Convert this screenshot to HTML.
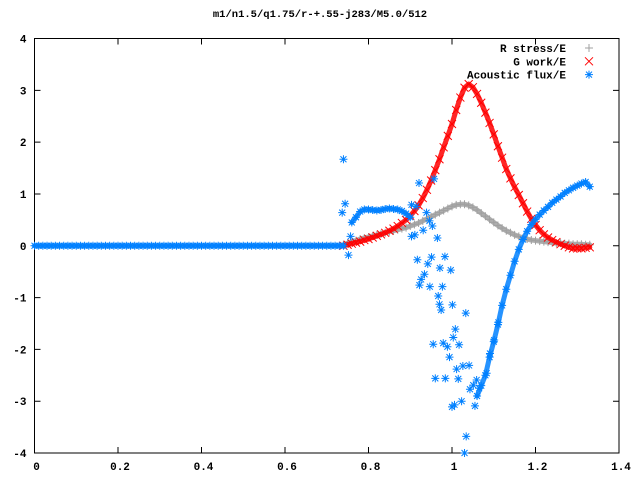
<!DOCTYPE html>
<html><head><meta charset="utf-8"><style>
html,body{margin:0;padding:0;background:#fff;}
svg{display:block;}
text{font-family:"Liberation Mono",monospace;font-weight:bold;font-size:11px;fill:#000;}
</style></head><body>
<svg id="chart" width="640" height="480" viewBox="0 0 640 480" xmlns="http://www.w3.org/2000/svg">
<rect x="0" y="0" width="640" height="480" fill="#fff"/>
<text x="320" y="17" text-anchor="middle" style="font-size:10.5px">m1/n1.5/q1.75/r-+.55-j283/M5.0/512</text>
<g id="axes"></g>
<g id="series"></g>
<g id="legend"></g>
</svg>
<script>
const xTicks = [0, 0.2, 0.4, 0.6, 0.8, 1, 1.2, 1.4];
const xTickLabels = ["0", "0.2", "0.4", "0.6", "0.8", "1", "1.2", "1.4"];
const yTicks = [-4, -3, -2, -1, 0, 1, 2, 3, 4];
const yTickLabels = ["-4", "-3", "-2", "-1", "0", "1", "2", "3", "4"];

const curveX = [0.74,0.75,0.76,0.77,0.78,0.79,0.80,0.81,0.82,0.83,0.84,0.85,0.86,0.87,0.88,0.89,0.90,0.91,0.92,0.93,0.94,0.95,0.96,0.97,0.98,0.99,1.00,1.01,1.02,1.03,1.04,1.05,1.06,1.07,1.08,1.09,1.10,1.11,1.12,1.13,1.14,1.15,1.16,1.17,1.18,1.19,1.20,1.21,1.22,1.23,1.24,1.25,1.26,1.27,1.28,1.29,1.30,1.31,1.32,1.33];
const stressY = [0.02,0.05,0.08,0.10,0.13,0.15,0.17,0.19,0.21,0.23,0.25,0.27,0.29,0.31,0.33,0.35,0.38,0.41,0.44,0.48,0.52,0.56,0.60,0.64,0.68,0.72,0.76,0.79,0.80,0.80,0.78,0.74,0.69,0.63,0.57,0.51,0.45,0.39,0.34,0.29,0.25,0.21,0.18,0.15,0.13,0.11,0.10,0.09,0.08,0.07,0.06,0.05,0.05,0.04,0.04,0.03,0.03,0.03,0.02,0.02];
const workY = [0.00,0.02,0.04,0.06,0.08,0.11,0.13,0.16,0.19,0.22,0.25,0.29,0.33,0.38,0.44,0.50,0.58,0.67,0.78,0.92,1.08,1.26,1.46,1.67,1.90,2.12,2.35,2.62,2.86,3.05,3.12,3.06,2.93,2.76,2.57,2.37,2.15,1.92,1.70,1.48,1.30,1.13,0.98,0.82,0.66,0.52,0.40,0.30,0.22,0.16,0.11,0.07,0.03,0.00,-0.03,-0.05,-0.05,-0.05,-0.04,-0.03];

const baseX = [0,0.01,0.02,0.03,0.04,0.05,0.06,0.07,0.08,0.09,0.10,0.11,0.12,0.13,0.14,0.15,0.16,0.17,0.18,0.19,0.20,0.21,0.22,0.23,0.24,0.25,0.26,0.27,0.28,0.29,0.30,0.31,0.32,0.33,0.34,0.35,0.36,0.37,0.38,0.39,0.40,0.41,0.42,0.43,0.44,0.45,0.46,0.47,0.48,0.49,0.50,0.51,0.52,0.53,0.54,0.55,0.56,0.57,0.58,0.59,0.60,0.61,0.62,0.63,0.64,0.65,0.66,0.67,0.68,0.69,0.70,0.71,0.72,0.73,0.74];
const baseY = [0,0,0,0,0,0,0,0,0,0,0,0,0,0,0,0,0,0,0,0,0,0,0,0,0,0,0,0,0,0,0,0,0,0,0,0,0,0,0,0,0,0,0,0,0,0,0,0,0,0,0,0,0,0,0,0,0,0,0,0,0,0,0,0,0,0,0,0,0,0,0,0,0,0,0];
const fluxUpperX = [0.76,0.77,0.78,0.79,0.80,0.81,0.82,0.83,0.84,0.85,0.86,0.87,0.88,0.89,0.90];
const fluxUpperY = [0.45,0.55,0.66,0.70,0.70,0.69,0.68,0.69,0.71,0.72,0.71,0.70,0.67,0.62,0.55];
const fluxRightX = [1.06,1.07,1.08,1.09,1.10,1.11,1.12,1.13,1.14,1.15,1.16,1.17,1.18,1.19,1.20,1.21,1.22,1.23,1.24,1.25,1.26,1.27,1.28,1.29,1.30,1.31,1.32,1.33];
const fluxRightY = [-2.9,-2.7,-2.5,-2.15,-1.85,-1.52,-1.15,-0.84,-0.57,-0.30,-0.07,0.12,0.28,0.41,0.51,0.60,0.68,0.75,0.83,0.89,0.95,1.02,1.07,1.12,1.16,1.20,1.23,1.14];
const scatterX = [0.740,0.744,0.737,0.752,0.757,0.921,0.957,0.903,0.914,0.939,0.946,0.953,0.931,0.903,0.911,0.965,0.917,0.942,0.951,0.983,0.971,0.997,0.934,0.926,0.922,0.947,0.977,0.967,0.970,0.974,1.001,1.033,1.008,1.003,0.955,0.979,0.989,1.017,0.994,1.011,1.026,1.041,0.960,0.984,1.015,1.059,1.051,1.043,1.065,1.000,1.006,1.023,1.055,1.034,1.030,1.083,1.091,1.101,1.111];
const scatterY = [1.67,0.81,0.64,-0.18,0.18,1.21,1.29,0.79,0.76,0.64,0.48,0.38,0.30,0.18,0.21,0.15,-0.27,-0.35,-0.22,-0.21,-0.43,-0.47,-0.55,-0.65,-0.76,-0.79,-0.79,-0.97,-1.13,-1.24,-1.14,-1.30,-1.61,-1.77,-1.90,-1.88,-1.95,-1.91,-2.15,-2.38,-2.32,-2.31,-2.56,-2.56,-2.57,-2.59,-2.69,-2.77,-2.75,-3.11,-3.07,-3.00,-3.09,-3.68,-4.0,-2.46,-2.08,-1.82,-1.48];

const L = 34.5, R = 619, T = 38.5, B = 453;
const xMin = 0, xMax = 1.4, yMin = -4, yMax = 4;
function sx(v){ return L + (v - xMin) / (xMax - xMin) * (R - L); }
function sy(v){ return B - (v - yMin) / (yMax - yMin) * (B - T); }
const NS = "http://www.w3.org/2000/svg";
function mk(tag, attrs, parent){ const e = document.createElementNS(NS, tag); for (const k in attrs) e.setAttribute(k, attrs[k]); parent.appendChild(e); return e; }

const axes = document.getElementById('axes');
const frame = mk('rect', {x:L, y:T, width:R-L, height:B-T, fill:'none', stroke:'#000', 'stroke-width':1}, axes);


xTicks.forEach((t, i) => {
  const x = sx(t);
  const tk = mk('path', {d:`M${x},${B}v-6M${x},${T}v6`, stroke:'#000', 'stroke-width':1}, axes);
  
  
  const lb = mk('text', {x:x + 2, y:B + 17, 'text-anchor':'middle'}, axes);
  lb.textContent = xTickLabels[i];
  
  
});
yTicks.forEach((t, i) => {
  const y = sy(t);
  const tk = mk('path', {d:`M${L},${y}h6M${R},${y}h-6`, stroke:'#000', 'stroke-width':1}, axes);
  
  
  const lb = mk('text', {x:L - 8, y:y + 4, 'text-anchor':'end'}, axes);
  lb.textContent = yTickLabels[i];
  
  
});

const C_GRAY = '#a0a0a0', C_RED = '#ff0000', C_BLUE = '#0080ff';
function plus(g, x, y, c){ return mk('path', {d:`M${x-4},${y}h8M${x},${y-4}v8`, stroke:c, 'stroke-width':1, fill:'none'}, g); }
function cross(g, x, y, c){ return mk('path', {d:`M${x-4},${y-4}l8,8M${x-4},${y+4}l8,-8`, stroke:c, 'stroke-width':1, fill:'none'}, g); }
function star(g, x, y, c){ return mk('path', {d:`M${x-4},${y}h8M${x},${y-4}v8M${x-3},${y-3}l6,6M${x-3},${y+3}l6,-6`, stroke:c, 'stroke-width':1, fill:'none'}, g); }
function band(g, xs, ys, c, w){
  const pts = xs.map((xv, i) => sx(xv) + ',' + sy(ys[i])).join(' ');
  return mk('polyline', {points:pts, fill:'none', stroke:c, 'stroke-width':w, 'stroke-linejoin':'round', 'stroke-linecap':'round', opacity:0.85}, g);
}

const series = document.getElementById('series');
const gStress = mk('g', {}, series);


const gWork = mk('g', {}, series);


const gFlux = mk('g', {}, series);



const bS = band(gStress, curveX, stressY, C_GRAY, 5);


curveX.forEach((xv, i) => {
  const p = plus(gStress, sx(xv), sy(stressY[i]), C_GRAY);
  
  
});
const bW = band(gWork, curveX, workY, C_RED, 5);


curveX.forEach((xv, i) => {
  const p = cross(gWork, sx(xv), sy(workY[i]), C_RED);
  
  
});
function drawFlux(xs, ys, withBand){
  if (withBand) {
    const b = band(gFlux, xs, ys, C_BLUE, 5);
    
    
  }
  xs.forEach((xv, i) => {
    const p = star(gFlux, sx(xv), sy(ys[i]), C_BLUE);
    
    
  });
}
drawFlux(baseX, baseY, true);
drawFlux(fluxUpperX, fluxUpperY, true);
drawFlux(fluxRightX, fluxRightY, true);
drawFlux(scatterX, scatterY, false);

const legend = document.getElementById('legend');
const legendLabels = ["R stress/E", "G work/E", "Acoustic flux/E"];
const legendColors = [C_GRAY, C_RED, C_BLUE];
const legendFns = [plus, cross, star];
legendLabels.forEach((lab, i) => {
  const y = 48 + i * 13.3;
  const t = mk('text', {x:566, y:y + 4, 'text-anchor':'end'}, legend);
  t.textContent = lab;
  
  
  const m = legendFns[i](legend, 589, y, legendColors[i]);
  
  
});
</script>
</body></html>
